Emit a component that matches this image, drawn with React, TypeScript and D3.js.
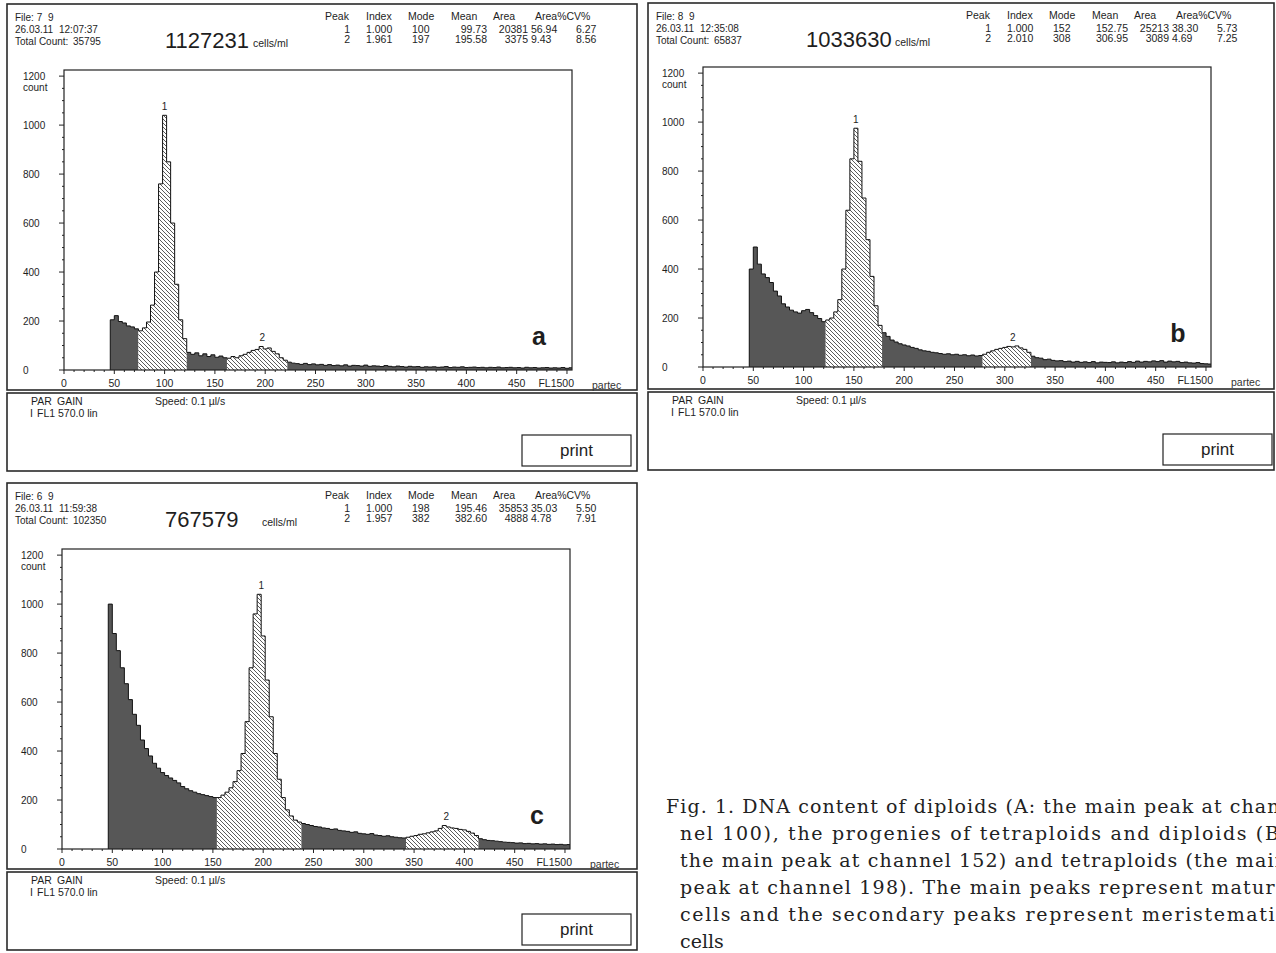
import React from 'react';
import * as d3 from 'd3';

// histogram bins: 4 channels wide, first bin starts at channel 46
const BIN_START = 46;
const BIN_W = 4;

const countsA = [
  205, 222, 198, 192, 180, 176, 168, 160, 172, 196,
  265, 400, 760, 1040, 850, 600, 350, 205, 128, 72,
  64, 70, 58, 66, 55, 62, 52, 57, 50, 48,
  55, 50, 58, 64, 72, 80, 84, 96, 86, 90,
  76, 66, 50, 40, 32, 28, 26, 23, 27, 22,
  25, 21, 23, 19, 22, 18, 20, 17, 21, 16,
  19, 18, 16, 20, 15, 17, 16, 14, 18, 15,
  13, 16, 14, 12, 15, 13, 14, 11, 13, 12,
  13, 11, 12, 14, 10, 12, 11, 13, 10, 11,
  12, 10, 11, 9, 11, 10, 12, 9, 10, 11,
  9, 10, 8, 11, 9, 10, 8, 9, 10, 8,
  9, 8, 10, 7, 9,
];

const countsB = [
  400, 490, 420, 380, 365, 345, 310, 290, 258, 245,
  232, 225, 220, 230, 235, 222, 210, 198, 185, 192,
  200, 225, 275, 400, 640, 850, 975, 840, 690, 520,
  370, 250, 170, 140, 125, 110, 102, 95, 90, 86,
  80, 76, 70, 66, 64, 60, 58, 55, 52, 54,
  50, 52, 48, 50, 46, 49, 45, 47, 52, 60,
  66, 72, 76, 80, 84, 82, 86, 78, 72, 60,
  44, 38, 36, 30, 32, 27, 25, 26, 22, 24,
  20, 23, 19, 21, 18, 22, 17, 20, 19, 18,
  21, 17, 20, 18, 22, 19, 24, 20, 23, 21,
  25, 22, 26, 20, 24, 21, 23, 18, 20, 17,
  16, 18, 14, 13, 12,
];

const countsC = [
  1000, 880, 810, 740, 675, 610, 550, 505, 445, 410,
  380, 350, 330, 312, 300, 290, 280, 270, 255, 246,
  238, 232, 226, 222, 218, 214, 210, 210, 220, 232,
  250, 275, 320, 390, 520, 740, 960, 1040, 870, 690,
  540, 390, 285, 210, 160, 135, 118, 110, 104, 100,
  96, 92, 90, 86, 84, 80, 82, 76, 74, 72,
  68, 70, 64, 62, 60, 63, 57, 55, 52, 54,
  50, 48, 46, 45, 48, 52, 55, 60, 62, 66,
  70, 74, 84, 96, 90, 86, 84, 80, 78, 72,
  65, 55, 42, 38, 35, 34, 32, 30, 28, 27,
  26, 24, 25, 22, 23, 21, 22, 20, 21, 19,
  20, 18, 19, 17, 18,
];

// gate boundaries (channels); regions alternate dark / hatched
const gatesA = [46, 74, 122, 162, 222, 506];
const gatesB = [46, 122, 178, 278, 326, 506];
const gatesC = [46, 154, 238, 342, 414, 506];

const statsHeader = ['Peak', 'Index', 'Mode', 'Mean', 'Area', 'Area%CV%'];
const statsA = [
  ['1', '1.000', '100', '99.73', '20381', '56.94', '6.27'],
  ['2', '1.961', '197', '195.58', '3375', '9.43', '8.56'],
];
const statsB = [
  ['1', '1.000', '152', '152.75', '25213', '38.30', '5.73'],
  ['2', '2.010', '308', '306.95', '3089', '4.69', '7.25'],
];
const statsC = [
  ['1', '1.000', '198', '195.46', '35853', '35.03', '5.50'],
  ['2', '1.957', '382', '382.60', '4888', '4.78', '7.91'],
];

const yTicks = [0, 200, 400, 600, 800, 1000, 1200];
const xTicks = [0, 50, 100, 150, 200, 250, 300, 350, 400, 450];

const captionLines = [
  'Fig. 1. DNA content of diploids (A: the main peak at chan-',
  'nel 100), the progenies of tetraploids and diploids (B:',
  'the main peak at channel 152) and tetraploids (the main',
  'peak at channel 198). The main peaks represent mature',
  'cells and the secondary peaks represent meristematic',
  'cells',
];

const SANS = '"Liberation Sans", Arial, Helvetica, sans-serif';
const DARK = '#575757';
const INK = '#1e1e1e';

const panels = [
  {
    id: 'a', box: [7, 4], boxW: 630, plot: [64, 70], file: ['File: 7', '9'], time: ['26.03.11', '12:07:37'],
    total: '35795', cells: '1127231', cellsX: 246, stats: statsA, counts: countsA, gates: gatesA,
  },
  {
    id: 'b', box: [648, 3], boxW: 626, plot: [703, 67], file: ['File: 8', '9'], time: ['26.03.11', '12:35:08'],
    total: '65837', cells: '1033630', cellsX: 247, stats: statsB, counts: countsB, gates: gatesB,
  },
  {
    id: 'c', box: [7, 483], boxW: 630, plot: [62, 549], file: ['File: 6', '9'], time: ['26.03.11', '11:59:38'],
    total: '102350', cells: '767579', cellsX: 255, stats: statsC, counts: countsC, gates: gatesC,
  },
];

const PLOT_W = 508;
const PLOT_H = 300;
const BOX_H = 386;
const LOW_H = 78;

function Panel({p}: {p: typeof panels[number]}) {
  const [bx, by] = p.box;
  const [px, py] = p.plot;
  const x = d3.scaleLinear().domain([0, 505]).range([px, px + PLOT_W]);
  const y = d3.scaleLinear().domain([0, 1225]).range([py + PLOT_H, py]);

  const pts: [number, number][] = p.counts.map((c, i) => [BIN_START + i * BIN_W, c]);
  const area = d3.area<[number, number]>()
      .x(d => x(d[0])).y0(y(0)).y1(d => y(d[1]))
      .curve(d3.curveStepAfter);
  const line = d3.line<[number, number]>()
      .x(d => x(d[0])).y(d => y(d[1]))
      .curve(d3.curveStepAfter);

  const segments = p.gates.slice(0, -1).map((g0, k) => {
    const g1 = p.gates[k + 1];
    const seg = pts.filter(d => d[0] >= g0 && d[0] < g1);
    seg.push([g1, seg[seg.length - 1][1]]);
    return {k, seg};
  });
  const outline: [number, number][] = [[BIN_START, 0], ...pts, [510, pts[pts.length - 1][1]]];

  const modes = p.stats.map(r => +r[2]);
  const peakTop = (m: number) => d3.max(pts.filter(d => Math.abs(d[0] + 2 - m) <= 6), d => d[1]) || 0;

  const colX = [318, 359, 401, 444, 486, 528];
  const rowCols = [
    {x: 343, anchor: 'end'}, {x: 359, anchor: 'start'}, {x: 405, anchor: 'start'},
    {x: 480, anchor: 'end'}, {x: 521, anchor: 'end'}, {x: 524, anchor: 'start'},
    {x: 569, anchor: 'start'},
  ];
  const lowY = by + BOX_H + 3;
  const bottom = py + PLOT_H;
  const right = px + PLOT_W;

  return (
    <g fontFamily={SANS} fill={INK}>
      <clipPath id={`clip-${p.id}`}>
        <rect x={px} y={py} width={PLOT_W} height={PLOT_H}/>
      </clipPath>
      <rect x={bx} y={by} width={p.boxW} height={BOX_H} fill="#fff" stroke="#2a2a2a" strokeWidth={1.6}/>
      <rect x={bx} y={lowY} width={p.boxW} height={LOW_H} fill="#fff" stroke="#2a2a2a" strokeWidth={1.6}/>

      {/* header */}
      <g fontSize={10}>
        <text x={bx + 8} y={by + 17}>{p.file[0]}</text>
        <text x={bx + 41} y={by + 17}>{p.file[1]}</text>
        <text x={bx + 8} y={by + 29}>{p.time[0]}</text>
        <text x={bx + 52} y={by + 29}>{p.time[1]}</text>
        <text x={bx + 8} y={by + 41}>Total Count:</text>
        <text x={bx + 66} y={by + 41}>{p.total}</text>
        <text x={bx + p.cellsX} y={by + 43} fontSize={10.5}>cells/ml</text>
      </g>
      <g fontSize={10.5}>
        {statsHeader.map((h, i) => (
          <text key={h} x={bx + colX[i]} y={by + 16}>{h}</text>
        ))}
        {p.stats.map((row, r) => row.map((v, i) => (
          <text key={`${r}-${i}`} x={bx + rowCols[i].x} y={by + 29 + r * 10}
                textAnchor={rowCols[i].anchor}>{v}</text>
        )))}
      </g>
      <text x={bx + 158} y={by + 44} fontSize={22}>{p.cells}</text>

      {/* histogram */}
      <g clipPath={`url(#clip-${p.id})`}>
        {segments.map(({k, seg}) => (
          <path key={k} d={area(seg) || ''} fill={k % 2 === 0 ? DARK : 'url(#hatch)'}/>
        ))}
        <path d={line(outline) || ''} fill="none" stroke="#111" strokeWidth={1}/>
      </g>
      <rect x={px} y={py} width={PLOT_W} height={PLOT_H} fill="none" stroke="#222" strokeWidth={1.2}/>

      {/* y axis */}
      {d3.range(0, 1225, 50).map(v => (
        <line key={`ym${v}`} x1={px - (v % 200 === 0 ? 5 : 2)} x2={px} y1={y(v)} y2={y(v)}
              stroke="#222" strokeWidth={1}/>
      ))}
      <g fontSize={10}>
        {yTicks.map(v => (
          <text key={`yt${v}`} x={px - 41} y={y(v) + 4}>{v}</text>
        ))}
        <text x={px - 41} y={y(1200) + 15}>count</text>
      </g>

      {/* x axis */}
      {d3.range(0, 501, 10).map(v => (
        <line key={`xm${v}`} x1={x(v)} x2={x(v)} y1={bottom} y2={bottom + (v % 50 === 0 ? 4 : 2)}
              stroke="#222" strokeWidth={1}/>
      ))}
      <g fontSize={10.5}>
        {xTicks.map(v => (
          <text key={`xt${v}`} x={x(v)} y={bottom + 17} textAnchor="middle">{v}</text>
        ))}
        <text x={right + 2} y={bottom + 17} textAnchor="end">FL1500</text>
        <text x={right + 20} y={bottom + 19} fill="#333">partec</text>
      </g>

      {/* peak numbers and panel letter */}
      <g fontSize={10}>
        {modes.map((m, i) => (
          <text key={`pk${i}`} x={x(m)} y={y(peakTop(m)) - 5} textAnchor="middle">{i + 1}</text>
        ))}
      </g>
      <text x={px + 475} y={bottom - 25} fontSize={25} fontWeight="bold" textAnchor="middle">{p.id}</text>

      {/* lower info box */}
      <g fontSize={10.5}>
        <text x={bx + 24} y={lowY + 12}>PAR</text>
        <text x={bx + 50} y={lowY + 12}>GAIN</text>
        <text x={bx + 23} y={lowY + 24}>I</text>
        <text x={bx + 30} y={lowY + 24}>FL1</text>
        <text x={bx + 51} y={lowY + 24}>570.0 lin</text>
        <text x={bx + 148} y={lowY + 12}>Speed: 0.1 µl/s</text>
      </g>
      <rect x={bx + 515} y={lowY + 42} width={109} height={31} fill="#fff" stroke="#222" strokeWidth={1.2}/>
      <text x={bx + 515 + 54.5} y={lowY + 63} fontSize={17} textAnchor="middle">print</text>
    </g>
  );
}

export default function App() {
  return (
    <svg width={1276} height={953} style={{position: 'absolute', left: 0, top: 0, background: '#fff'}}>
      <defs>
        <pattern id="hatch" width={4} height={4} patternUnits="userSpaceOnUse">
          <rect width={4} height={4} fill="#fff"/>
          <path d="M-1,-1 L5,5 M3,-1 L5,1 M-1,3 L1,5" stroke="#4a4a4a" strokeWidth={0.9}/>
        </pattern>
      </defs>
      <rect width={1276} height={953} fill="#fff"/>
      {panels.map(p => <Panel key={p.id} p={p}/>)}
      <g fontFamily='"DejaVu Serif", "Liberation Serif", serif' fontSize={19} fill="#222">
        {captionLines.map((t, i) => (
          <text key={i} x={i === 0 ? 666 : 680} y={813 + i * 27}
                textLength={i < 5 ? (i === 0 ? 621 : 607) : undefined}
                lengthAdjust="spacing">{t}</text>
        ))}
      </g>
    </svg>
  );
}
